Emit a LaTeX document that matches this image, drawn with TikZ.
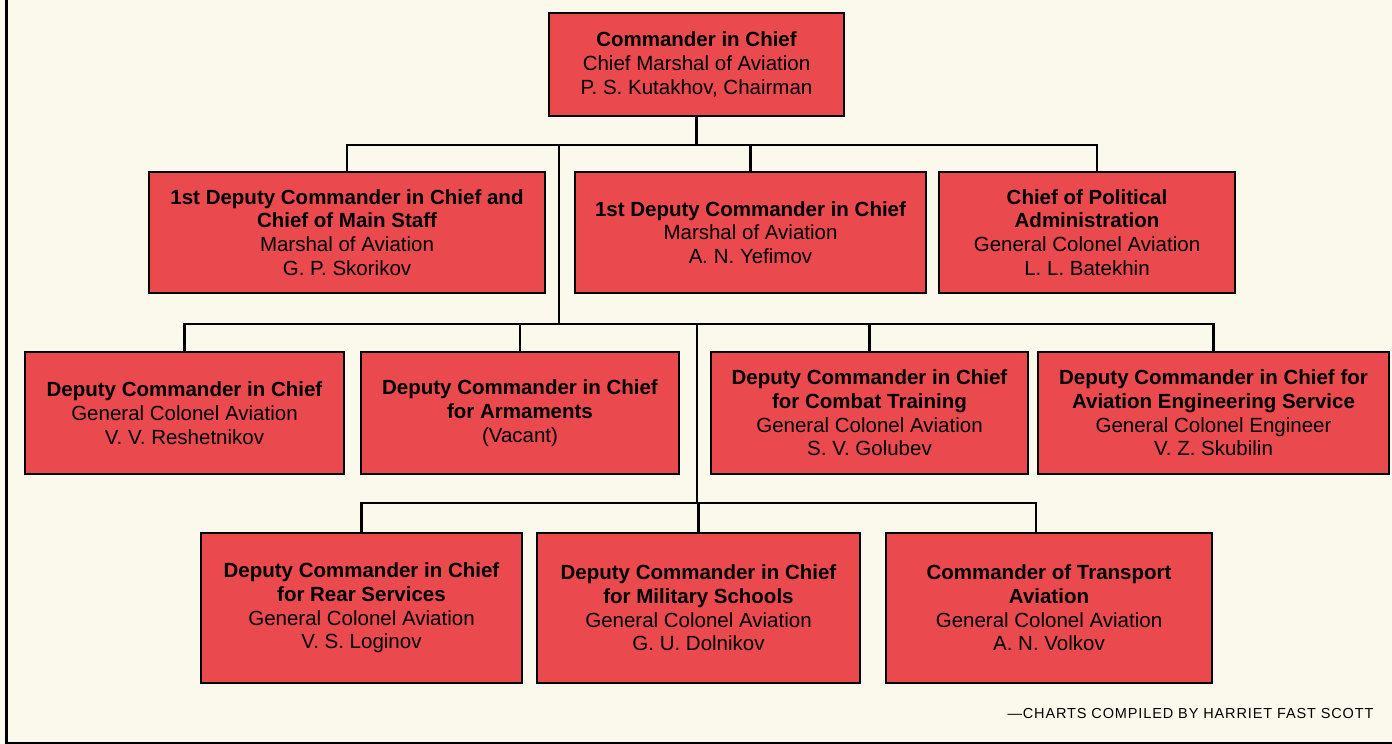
\documentclass[tikz,border=0pt]{standalone}
\usepackage{fontspec}
\setmainfont{Liberation Sans}
\usepackage{xcolor}
\usetikzlibrary{positioning}

\definecolor{chartred}{RGB}{234,74,78}
\definecolor{paper}{RGB}{251,249,236}

\begin{document}
\begin{tikzpicture}[x=1pt,y=-1pt,
  node distance=20pt and 15pt,
  post/.style={draw,line width=2.8pt,fill=chartred,align=center,inner sep=0pt,outer sep=0pt,
    font=\fontsize{20.5}{23.7}\selectfont},
  rowtwo/.style={post,minimum height=121pt},
  rowthree/.style={post,minimum height=122pt},
  rowfour/.style={post,minimum height=150pt},
  link/.style={line width=2.5pt}
]
\useasboundingbox[fill=paper] (0,0) rectangle (1392,744);
\draw[line width=3pt] (6,0) -- (6,743) -- (1392,743);

\node[post,minimum width=295pt,minimum height=103pt] (chief) at (696.5,64.5)
  {\textbf{Commander in Chief}\\Chief Marshal of Aviation\\P. S. Kutakhov, Chairman};

\node[rowtwo,minimum width=396pt] (staff) at (347,232.5)
  {\textbf{1st Deputy Commander in Chief and}\\\textbf{Chief of Main Staff}\\Marshal of Aviation\\G. P. Skorikov};
\node[rowtwo,minimum width=351pt,right=30pt of staff] (first)
  {\textbf{1st Deputy Commander in Chief}\\Marshal of Aviation\\A. N. Yefimov};
\node[rowtwo,minimum width=296pt,right=13pt of first] (polit)
  {\textbf{Chief of Political}\\\textbf{Administration}\\General Colonel Aviation\\L. L. Batekhin};

\node[rowthree,minimum width=319pt] (deputy) at (184.5,413)
  {\textbf{Deputy Commander in Chief}\\General Colonel Aviation\\V. V. Reshetnikov};
\node[rowthree,minimum width=318pt,right=17pt of deputy] (arms)
  {\textbf{Deputy Commander in Chief}\\\textbf{for Armaments}\\(Vacant)};
\node[rowthree,minimum width=317pt,right=32pt of arms] (combat)
  {\textbf{Deputy Commander in Chief}\\\textbf{for Combat Training}\\General Colonel Aviation\\S. V. Golubev};
\node[rowthree,minimum width=351pt,right=10pt of combat] (engr)
  {\textbf{Deputy Commander in Chief for}\\\textbf{Aviation Engineering Service}\\General Colonel Engineer\\V. Z. Skubilin};

\node[rowfour,minimum width=321pt] (rear) at (361.5,608)
  {\textbf{Deputy Commander in Chief}\\\textbf{for Rear Services}\\General Colonel Aviation\\V. S. Loginov};
\node[rowfour,minimum width=323pt,right=15pt of rear] (schools)
  {\textbf{Deputy Commander in Chief}\\\textbf{for Military Schools}\\General Colonel Aviation\\G. U. Dolnikov};
\node[rowfour,minimum width=326pt,right=26pt of schools] (transport)
  {\textbf{Commander of Transport}\\\textbf{Aviation}\\General Colonel Aviation\\A. N. Volkov};

\node[anchor=east,font=\fontsize{14.5}{17}\selectfont\addfontfeatures{LetterSpace=6}] (credit) at (1377,713)
  {---CHARTS COMPILED BY HARRIET FAST SCOTT};

% bus lines
\coordinate (bus1) at (697,145);
\coordinate (bus2) at (559,324);
\coordinate (bus3) at (697,503);
\coordinate (politdrop) at ([xshift=10pt]polit.north);
\coordinate (transdrop) at ([xshift=-13pt]transport.north);

\draw[link] (chief.south) -- (chief.south |- bus1);
\draw[link] (staff.north) |- (politdrop |- bus1) -- (politdrop);
\draw[link] (first.north) -- (first.north |- bus1);
\draw[link] (bus2 |- bus1) -- (bus2);

\draw[link] (deputy.north) |- (engr.north |- bus2) -- (engr.north);
\draw[link] (arms.north) -- (arms.north |- bus2);
\draw[link] (combat.north) -- (combat.north |- bus2);
\draw[link] (bus3 |- bus2) -- (bus3);

\draw[link] (rear.north) |- (transdrop |- bus3) -- (transdrop);
\draw[link] (schools.north) -- (schools.north |- bus3);
\end{tikzpicture}
\end{document}
